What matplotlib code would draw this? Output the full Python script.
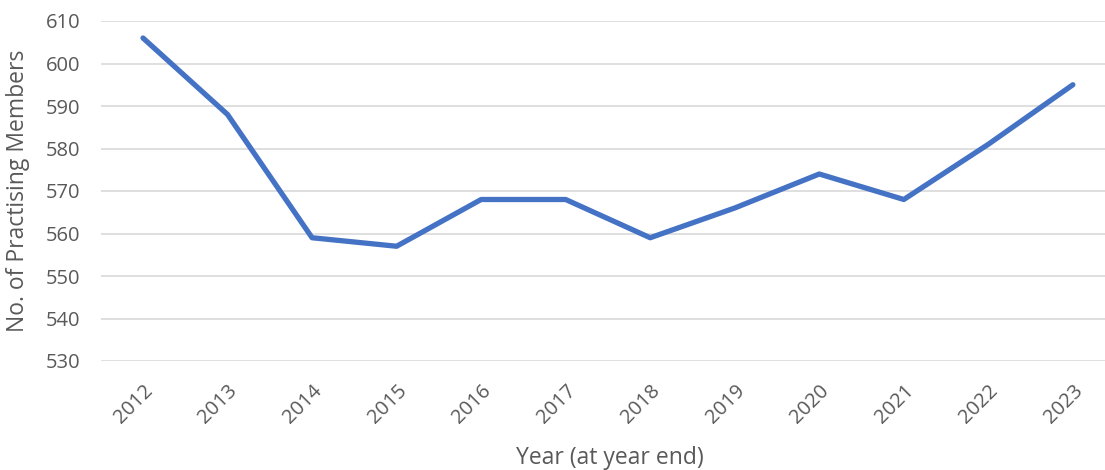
import matplotlib
matplotlib.use('Agg')
import matplotlib.pyplot as plt

# Practising members at year end
years = ['2012', '2013', '2014', '2015', '2016', '2017',
         '2018', '2019', '2020', '2021', '2022', '2023']
members = [606, 588, 559, 557, 568, 568, 559, 566, 574, 568, 581, 595]

y_ticks = list(range(530, 611, 10))

TEXT_GRAY = '#595959'
plt.rcParams['font.family'] = ['Open Sans', 'DejaVu Sans']

fig = plt.figure(figsize=(11.05, 4.70), dpi=100)
ax = fig.add_axes([101 / 1105, 109 / 470, 1004 / 1105, 340 / 470])

x = list(range(len(years)))
ax.plot(x, members, color='#4472C4', linewidth=3.8,
        solid_joinstyle='round', solid_capstyle='round', clip_on=False, zorder=3)

ax.set_xlim(-0.497, 11.38)
ax.set_ylim(530, 610)
ax.set_yticks(y_ticks)
ax.set_xticks(x)
ax.set_xticklabels(years, rotation=45, ha='right', va='top',
                   rotation_mode='anchor')

ax.grid(axis='y', color='#D9D9D9', linewidth=1.2)
ax.set_axisbelow(True)
for s in ax.spines.values():
    s.set_visible(False)

ax.tick_params(axis='y', length=0, pad=15, labelsize=14.5, labelcolor=TEXT_GRAY)
ax.tick_params(axis='x', length=0, pad=14, labelsize=14.5, labelcolor=TEXT_GRAY)

ax.set_ylabel('No. of Practising Members', fontsize=16.5, color=TEXT_GRAY)
ax.yaxis.set_label_coords(-0.0707, 0.5)
ax.set_xlabel('Year (at year end)', fontsize=16.5, color=TEXT_GRAY)
ax.xaxis.set_label_coords(0.507, -0.25)

fig.savefig('out.png', dpi=100)
